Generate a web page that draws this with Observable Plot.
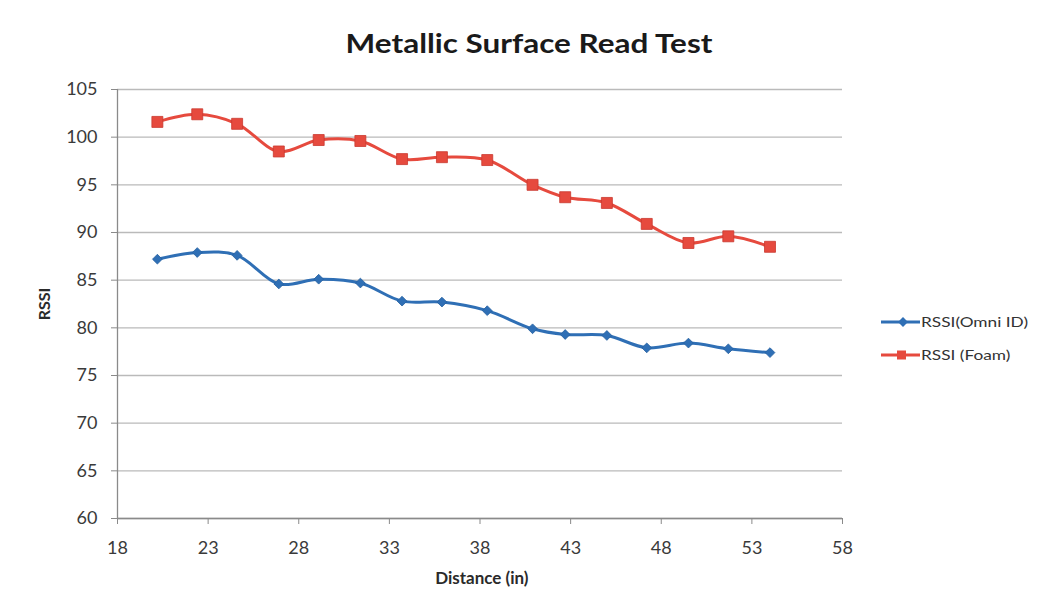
<!DOCTYPE html>
<html>
<head>
<meta charset="utf-8">
<script src="https://cdn.jsdelivr.net/npm/d3@7"></script>
<script src="https://cdn.jsdelivr.net/npm/@observablehq/plot@0.6"></script>
<style>
  html, body { margin: 0; padding: 0; background: #ffffff; }
  #wrap { position: relative; width: 1037px; height: 610px; font-family: Lato, "Open Sans", sans-serif; }
  #chart { position: absolute; left: 0; top: 0; }
  #title { position: absolute; left: 529px; top: 27px; white-space: nowrap;
           font-size: 26px; font-weight: 700; color: #1a1a1a;
           transform: translateX(-50%) scaleX(1.21); }
  #legend { position: absolute; left: 881px; top: 305px; font-size: 13.5px; color: #333; }
  .item { display: flex; align-items: center; height: 33.5px; white-space: nowrap; }
  .item svg { flex: none; }
  .item span { display: inline-block; transform: scaleX(1.28); transform-origin: left center; margin-left: 1px; }
</style>
</head>
<body>
<div id="wrap">
  <div id="chart"></div>
  <div id="title">Metallic Surface Read Test</div>
  <div id="legend"></div>
</div>
<script>
// Read distances (in) and RSSI readings for the two tag types
const distance = [20.2, 22.4, 24.6, 26.9, 29.1, 31.4, 33.7, 35.9, 38.4, 40.9, 42.7, 45.0, 47.2, 49.5, 51.7, 54.0];
const rssiOmni = [87.2, 87.9, 87.6, 84.6, 85.1, 84.7, 82.8, 82.7, 81.8, 79.9, 79.3, 79.2, 77.9, 78.4, 77.8, 77.4];
const rssiFoam = [101.6, 102.4, 101.4, 98.5, 99.7, 99.6, 97.7, 97.9, 97.6, 95.0, 93.7, 93.1, 90.9, 88.9, 89.6, 88.5];

const seriesNames = ["RSSI(Omni ID)", "RSSI (Foam)"];
const seriesColors = ["#2f6fb5", "#e64a3e"];
const xTicks = [18, 23, 28, 33, 38, 43, 48, 53, 58];
const yTicks = [60, 65, 70, 75, 80, 85, 90, 95, 100, 105];

const omni = distance.map((d, i) => ({distance: d, rssi: rssiOmni[i]}));
const foam = distance.map((d, i) => ({distance: d, rssi: rssiFoam[i]}));

const chart = Plot.plot({
  width: 1037,
  height: 610,
  marginLeft: 117,
  marginRight: 195,
  marginTop: 89,
  marginBottom: 92,
  style: {fontFamily: "Lato, 'Open Sans', sans-serif", fontSize: "18px", color: "#333", background: "transparent"},
  x: {domain: [18, 58], ticks: xTicks, label: null},
  y: {domain: [60, 105], ticks: yTicks, label: null},
  marks: [
    Plot.gridY(yTicks, {stroke: "#bababa", strokeOpacity: 1, strokeWidth: 1.3}),
    Plot.axisY({ticks: yTicks, tickSize: 6, tickPadding: 14, stroke: "#8a8a8a", label: null, fill: "#3a3a3a"}),
    Plot.axisX({ticks: xTicks, tickSize: 6, tickPadding: 17, stroke: "#8a8a8a", label: null, fill: "#3a3a3a"}),
    Plot.ruleX([18], {stroke: "#8a8a8a", strokeWidth: 1.3}),
    Plot.ruleY([60], {stroke: "#8a8a8a", strokeWidth: 1.3}),
    Plot.line(omni, {x: "distance", y: "rssi", stroke: seriesColors[0], strokeWidth: 3, curve: "catmull-rom"}),
    Plot.line(foam, {x: "distance", y: "rssi", stroke: seriesColors[1], strokeWidth: 3, curve: "catmull-rom"}),
    Plot.dot(omni, {x: "distance", y: "rssi", symbol: "diamond2", r: 4.4, fill: seriesColors[0], stroke: "#25609f", strokeWidth: 0.8}),
    Plot.dot(foam, {x: "distance", y: "rssi", symbol: "square", r: 6.2, fill: seriesColors[1], stroke: "#c9392f", strokeWidth: 0.8}),
    // axis titles
    Plot.text(["Distance (in)"], {frameAnchor: "bottom", dy: 65, x: () => 38.1, textAnchor: "middle", fontSize: 17, fontWeight: 700, fill: "#2a2a2a"}),
    Plot.text(["RSSI"], {frameAnchor: "left", dx: -73, textAnchor: "middle", rotate: -90, fontSize: 16, fontWeight: 700, fill: "#2a2a2a"})
  ]
});
document.getElementById("chart").append(chart);

// Legend: line swatch with the series marker, then its name
const legend = document.getElementById("legend");
seriesNames.forEach((name, i) => {
  const row = document.createElement("div");
  row.className = "item";
  const marker = i === 0
    ? `<rect x="18.5" y="3.5" width="7" height="7" fill="${seriesColors[i]}" transform="rotate(45 22 7)"/>`
    : `<rect x="16" y="2.5" width="9" height="9" fill="${seriesColors[i]}"/>`;
  row.innerHTML = `<svg width="39" height="14"><line x1="0" x2="39" y1="7" y2="7" stroke="${seriesColors[i]}" stroke-width="3"/>${marker}</svg><span>${name}</span>`;
  legend.append(row);
});
</script>
</body>
</html>
